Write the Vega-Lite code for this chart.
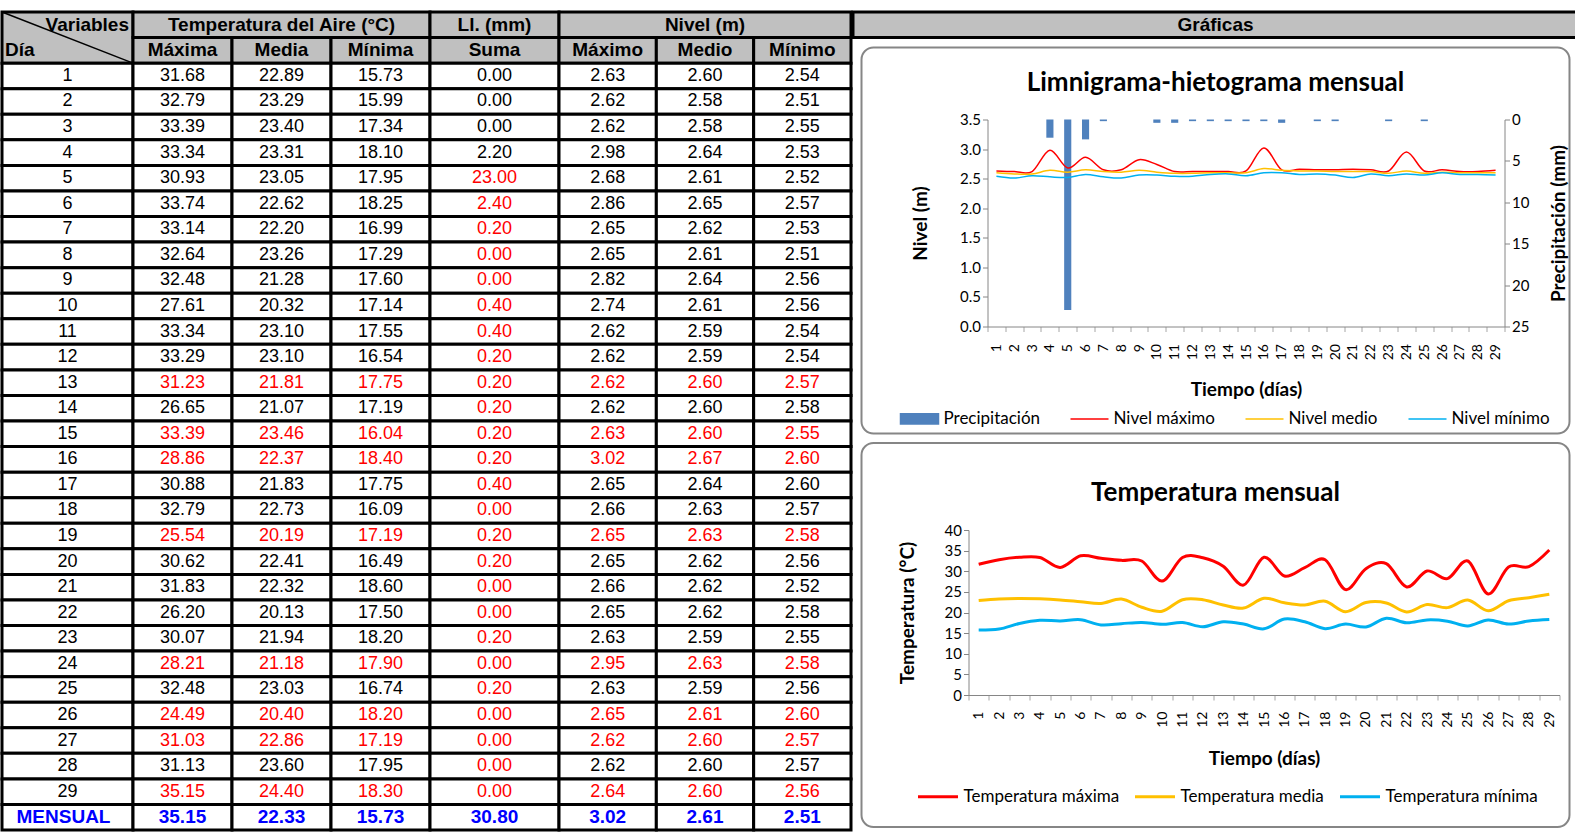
{
  "$schema": "https://vega.github.io/schema/vega-lite/v6.json",
  "padding": {"left": 0, "top": 10, "right": 0, "bottom": 0},
  "background": "white",
  "config": {
    "view": {"stroke": null},
    "axis": {"labelFont": "Lato", "labelFontSize": 15, "labelColor": "#000000", "titleFont": "Lato", "titleFontSize": 19, "titleFontWeight": "bold", "titleColor": "#000000", "domainColor": "#868686", "tickColor": "#868686", "tickSize": 5, "grid": false},
    "legend": {"labelFont": "Lato", "labelFontSize": 17, "labelColor": "#000000"},
    "title": {"font": "Lato", "fontSize": 26, "fontWeight": "bold", "color": "#000000"},
    "text": {"font": "Liberation Sans", "fontSize": 18, "baseline": "middle"}
  },
  "datasets": {
    "diario": [
      {"dia": 1, "tmax": 31.68, "tmed": 22.89, "tmin": 15.73, "ll": 0.0, "nmax": 2.63, "nmed": 2.60, "nmin": 2.54, "estimado": false, "estimado_ll": false},
      {"dia": 2, "tmax": 32.79, "tmed": 23.29, "tmin": 15.99, "ll": 0.0, "nmax": 2.62, "nmed": 2.58, "nmin": 2.51, "estimado": false, "estimado_ll": false},
      {"dia": 3, "tmax": 33.39, "tmed": 23.40, "tmin": 17.34, "ll": 0.0, "nmax": 2.62, "nmed": 2.58, "nmin": 2.55, "estimado": false, "estimado_ll": false},
      {"dia": 4, "tmax": 33.34, "tmed": 23.31, "tmin": 18.10, "ll": 2.2, "nmax": 2.98, "nmed": 2.64, "nmin": 2.53, "estimado": false, "estimado_ll": false},
      {"dia": 5, "tmax": 30.93, "tmed": 23.05, "tmin": 17.95, "ll": 23.0, "nmax": 2.68, "nmed": 2.61, "nmin": 2.52, "estimado": false, "estimado_ll": true},
      {"dia": 6, "tmax": 33.74, "tmed": 22.62, "tmin": 18.25, "ll": 2.4, "nmax": 2.86, "nmed": 2.65, "nmin": 2.57, "estimado": false, "estimado_ll": true},
      {"dia": 7, "tmax": 33.14, "tmed": 22.20, "tmin": 16.99, "ll": 0.2, "nmax": 2.65, "nmed": 2.62, "nmin": 2.53, "estimado": false, "estimado_ll": true},
      {"dia": 8, "tmax": 32.64, "tmed": 23.26, "tmin": 17.29, "ll": 0.0, "nmax": 2.65, "nmed": 2.61, "nmin": 2.51, "estimado": false, "estimado_ll": true},
      {"dia": 9, "tmax": 32.48, "tmed": 21.28, "tmin": 17.60, "ll": 0.0, "nmax": 2.82, "nmed": 2.64, "nmin": 2.56, "estimado": false, "estimado_ll": true},
      {"dia": 10, "tmax": 27.61, "tmed": 20.32, "tmin": 17.14, "ll": 0.4, "nmax": 2.74, "nmed": 2.61, "nmin": 2.56, "estimado": false, "estimado_ll": true},
      {"dia": 11, "tmax": 33.34, "tmed": 23.10, "tmin": 17.55, "ll": 0.4, "nmax": 2.62, "nmed": 2.59, "nmin": 2.54, "estimado": false, "estimado_ll": true},
      {"dia": 12, "tmax": 33.29, "tmed": 23.10, "tmin": 16.54, "ll": 0.2, "nmax": 2.62, "nmed": 2.59, "nmin": 2.54, "estimado": false, "estimado_ll": true},
      {"dia": 13, "tmax": 31.23, "tmed": 21.81, "tmin": 17.75, "ll": 0.2, "nmax": 2.62, "nmed": 2.60, "nmin": 2.57, "estimado": true, "estimado_ll": true},
      {"dia": 14, "tmax": 26.65, "tmed": 21.07, "tmin": 17.19, "ll": 0.2, "nmax": 2.62, "nmed": 2.60, "nmin": 2.58, "estimado": false, "estimado_ll": true},
      {"dia": 15, "tmax": 33.39, "tmed": 23.46, "tmin": 16.04, "ll": 0.2, "nmax": 2.63, "nmed": 2.60, "nmin": 2.55, "estimado": true, "estimado_ll": true},
      {"dia": 16, "tmax": 28.86, "tmed": 22.37, "tmin": 18.40, "ll": 0.2, "nmax": 3.02, "nmed": 2.67, "nmin": 2.60, "estimado": true, "estimado_ll": true},
      {"dia": 17, "tmax": 30.88, "tmed": 21.83, "tmin": 17.75, "ll": 0.4, "nmax": 2.65, "nmed": 2.64, "nmin": 2.60, "estimado": false, "estimado_ll": true},
      {"dia": 18, "tmax": 32.79, "tmed": 22.73, "tmin": 16.09, "ll": 0.0, "nmax": 2.66, "nmed": 2.63, "nmin": 2.57, "estimado": false, "estimado_ll": true},
      {"dia": 19, "tmax": 25.54, "tmed": 20.19, "tmin": 17.19, "ll": 0.2, "nmax": 2.65, "nmed": 2.63, "nmin": 2.58, "estimado": true, "estimado_ll": true},
      {"dia": 20, "tmax": 30.62, "tmed": 22.41, "tmin": 16.49, "ll": 0.2, "nmax": 2.65, "nmed": 2.62, "nmin": 2.56, "estimado": false, "estimado_ll": true},
      {"dia": 21, "tmax": 31.83, "tmed": 22.32, "tmin": 18.60, "ll": 0.0, "nmax": 2.66, "nmed": 2.62, "nmin": 2.52, "estimado": false, "estimado_ll": true},
      {"dia": 22, "tmax": 26.20, "tmed": 20.13, "tmin": 17.50, "ll": 0.0, "nmax": 2.65, "nmed": 2.62, "nmin": 2.58, "estimado": false, "estimado_ll": true},
      {"dia": 23, "tmax": 30.07, "tmed": 21.94, "tmin": 18.20, "ll": 0.2, "nmax": 2.63, "nmed": 2.59, "nmin": 2.55, "estimado": false, "estimado_ll": true},
      {"dia": 24, "tmax": 28.21, "tmed": 21.18, "tmin": 17.90, "ll": 0.0, "nmax": 2.95, "nmed": 2.63, "nmin": 2.58, "estimado": true, "estimado_ll": true},
      {"dia": 25, "tmax": 32.48, "tmed": 23.03, "tmin": 16.74, "ll": 0.2, "nmax": 2.63, "nmed": 2.59, "nmin": 2.56, "estimado": false, "estimado_ll": true},
      {"dia": 26, "tmax": 24.49, "tmed": 20.40, "tmin": 18.20, "ll": 0.0, "nmax": 2.65, "nmed": 2.61, "nmin": 2.60, "estimado": true, "estimado_ll": true},
      {"dia": 27, "tmax": 31.03, "tmed": 22.86, "tmin": 17.19, "ll": 0.0, "nmax": 2.62, "nmed": 2.60, "nmin": 2.57, "estimado": true, "estimado_ll": true},
      {"dia": 28, "tmax": 31.13, "tmed": 23.60, "tmin": 17.95, "ll": 0.0, "nmax": 2.62, "nmed": 2.60, "nmin": 2.57, "estimado": false, "estimado_ll": true},
      {"dia": 29, "tmax": 35.15, "tmed": 24.40, "tmin": 18.30, "ll": 0.0, "nmax": 2.64, "nmed": 2.60, "nmin": 2.56, "estimado": true, "estimado_ll": true}
    ],
    "mensual": [
      {"etiqueta": "MENSUAL", "tmax": 35.15, "tmed": 22.33, "tmin": 15.73, "ll": 30.80, "nmax": 3.02, "nmed": 2.61, "nmin": 2.51}
    ]
  },
  "hconcat": [
    {
      "hconcat": [
        {
          "width": 131, "height": 818,
          "layer": [
            {"data": {"values": [{"t": "Variables"}]}, "mark": {"type": "rect", "fill": "#C0C0C0", "stroke": "#000000", "strokeWidth": 3},
             "encoding": {"y": {"datum": "h1", "type": "ordinal", "bandPosition": 0, "scale": {"domain": ["h1","h2",1,2,3,4,5,6,7,8,9,10,11,12,13,14,15,16,17,18,19,20,21,22,23,24,25,26,27,28,29,"MENSUAL"], "paddingInner": 0, "paddingOuter": 0}, "axis": null}, "y2": {"datum": 1, "bandPosition": 0}}},
            {"data": {"values": [{"t": "Variables"}]}, "mark": {"type": "rule", "stroke": "#000000", "strokeWidth": 1.5},
             "encoding": {"x": {"value": 0}, "x2": {"value": "width"}, "y": {"datum": "h1", "type": "ordinal", "bandPosition": 0, "axis": null}, "y2": {"datum": 1, "bandPosition": 0}}},
            {"data": {"values": [{"t": "Variables"}]}, "mark": {"type": "text", "fontWeight": "bold", "fontSize": 19, "align": "right", "dx": -4, "color": "#000000"},
             "encoding": {"x": {"value": "width"}, "y": {"datum": "h1", "type": "ordinal", "axis": null}, "text": {"field": "t"}}},
            {"data": {"values": [{"t": "Día"}]}, "mark": {"type": "text", "fontWeight": "bold", "fontSize": 19, "align": "left", "dx": 3, "color": "#000000"},
             "encoding": {"x": {"value": 0}, "y": {"datum": "h2", "type": "ordinal", "axis": null}, "text": {"field": "t"}}},
            {
              "data": {"name": "diario"},
              "encoding": {"y": {"field": "dia", "type": "ordinal", "axis": null}},
              "layer": [
                {"mark": {"type": "rect", "fill": "#FFFFFF", "stroke": "#000000", "strokeWidth": 3}},
                {"mark": {"type": "text", "color": "#000000"}, "encoding": {"text": {"field": "dia"}}}
              ]
            },
            {
              "data": {"name": "mensual"},
              "encoding": {"y": {"field": "etiqueta", "type": "ordinal", "axis": null}},
              "layer": [
                {"mark": {"type": "rect", "fill": "#FFFFFF", "stroke": "#000000", "strokeWidth": 3}},
                {"mark": {"type": "text", "color": "#0000FF", "fontWeight": "bold", "fontSize": 19, "dx": -4}, "encoding": {"text": {"field": "etiqueta"}}}
              ]
            }
          ]
        },
        {
          "width": 297, "height": 818,
          "layer": [
            {
              "data": {"values": [{"titulo": "Temperatura del Aire (°C)"}]},
              "encoding": {"y": {"datum": "h1", "type": "ordinal", "scale": {"domain": ["h1","h2",1,2,3,4,5,6,7,8,9,10,11,12,13,14,15,16,17,18,19,20,21,22,23,24,25,26,27,28,29,"MENSUAL"], "paddingInner": 0, "paddingOuter": 0}, "axis": null}},
              "layer": [
                {"mark": {"type": "rect", "fill": "#C0C0C0", "stroke": "#000000", "strokeWidth": 3}},
                {"mark": {"type": "text", "fontWeight": "bold", "fontSize": 19, "color": "#000000"}, "encoding": {"text": {"field": "titulo"}}}
              ]
            },
            {
              "data": {"values": [{"var": "tmax", "nombre": "Máxima"}, {"var": "tmed", "nombre": "Media"}, {"var": "tmin", "nombre": "Mínima"}]},
              "encoding": {"x": {"field": "var", "type": "nominal", "scale": {"domain": ["tmax", "tmed", "tmin"], "paddingInner": 0, "paddingOuter": 0}, "axis": null}, "y": {"datum": "h2", "type": "ordinal", "axis": null}},
              "layer": [
                {"mark": {"type": "rect", "fill": "#C0C0C0", "stroke": "#000000", "strokeWidth": 3}},
                {"mark": {"type": "text", "fontWeight": "bold", "fontSize": 19, "color": "#000000"}, "encoding": {"text": {"field": "nombre"}}}
              ]
            },
            {
              "data": {"name": "diario"},
              "transform": [{"fold": ["tmax", "tmed", "tmin"], "as": ["var", "valor"]}],
              "encoding": {"x": {"field": "var", "type": "nominal", "axis": null}, "y": {"field": "dia", "type": "ordinal", "axis": null}},
              "layer": [
                {"mark": {"type": "rect", "fill": "#FFFFFF", "stroke": "#000000", "strokeWidth": 3}},
                {"mark": {"type": "text"}, "encoding": {"text": {"field": "valor", "type": "quantitative", "format": ".2f"}, "color": {"condition": {"test": "datum.estimado", "value": "#FF0000"}, "value": "#000000"}}}
              ]
            },
            {
              "data": {"name": "mensual"},
              "transform": [{"fold": ["tmax", "tmed", "tmin"], "as": ["var", "valor"]}],
              "encoding": {"x": {"field": "var", "type": "nominal", "axis": null}, "y": {"field": "etiqueta", "type": "ordinal", "axis": null}},
              "layer": [
                {"mark": {"type": "rect", "fill": "#FFFFFF", "stroke": "#000000", "strokeWidth": 3}},
                {"mark": {"type": "text", "color": "#0000FF", "fontWeight": "bold", "fontSize": 19}, "encoding": {"text": {"field": "valor", "type": "quantitative", "format": ".2f"}}}
              ]
            }
          ]
        },
        {
          "width": 129, "height": 818,
          "layer": [
            {
              "data": {"values": [{"titulo": "Ll. (mm)"}]},
              "encoding": {"y": {"datum": "h1", "type": "ordinal", "scale": {"domain": ["h1","h2",1,2,3,4,5,6,7,8,9,10,11,12,13,14,15,16,17,18,19,20,21,22,23,24,25,26,27,28,29,"MENSUAL"], "paddingInner": 0, "paddingOuter": 0}, "axis": null}},
              "layer": [
                {"mark": {"type": "rect", "fill": "#C0C0C0", "stroke": "#000000", "strokeWidth": 3}},
                {"mark": {"type": "text", "fontWeight": "bold", "fontSize": 19, "color": "#000000"}, "encoding": {"text": {"field": "titulo"}}}
              ]
            },
            {
              "data": {"values": [{"nombre": "Suma"}]},
              "encoding": {"y": {"datum": "h2", "type": "ordinal", "axis": null}},
              "layer": [
                {"mark": {"type": "rect", "fill": "#C0C0C0", "stroke": "#000000", "strokeWidth": 3}},
                {"mark": {"type": "text", "fontWeight": "bold", "fontSize": 19, "color": "#000000"}, "encoding": {"text": {"field": "nombre"}}}
              ]
            },
            {
              "data": {"name": "diario"},
              "encoding": {"y": {"field": "dia", "type": "ordinal", "axis": null}},
              "layer": [
                {"mark": {"type": "rect", "fill": "#FFFFFF", "stroke": "#000000", "strokeWidth": 3}},
                {"mark": {"type": "text"}, "encoding": {"text": {"field": "ll", "type": "quantitative", "format": ".2f"}, "color": {"condition": {"test": "datum.estimado_ll", "value": "#FF0000"}, "value": "#000000"}}}
              ]
            },
            {
              "data": {"name": "mensual"},
              "encoding": {"y": {"field": "etiqueta", "type": "ordinal", "axis": null}},
              "layer": [
                {"mark": {"type": "rect", "fill": "#FFFFFF", "stroke": "#000000", "strokeWidth": 3}},
                {"mark": {"type": "text", "color": "#0000FF", "fontWeight": "bold", "fontSize": 19}, "encoding": {"text": {"field": "ll", "type": "quantitative", "format": ".2f"}}}
              ]
            }
          ]
        },
        {
          "width": 292, "height": 818,
          "layer": [
            {
              "data": {"values": [{"titulo": "Nivel (m)"}]},
              "encoding": {"y": {"datum": "h1", "type": "ordinal", "scale": {"domain": ["h1","h2",1,2,3,4,5,6,7,8,9,10,11,12,13,14,15,16,17,18,19,20,21,22,23,24,25,26,27,28,29,"MENSUAL"], "paddingInner": 0, "paddingOuter": 0}, "axis": null}},
              "layer": [
                {"mark": {"type": "rect", "fill": "#C0C0C0", "stroke": "#000000", "strokeWidth": 3}},
                {"mark": {"type": "text", "fontWeight": "bold", "fontSize": 19, "color": "#000000"}, "encoding": {"text": {"field": "titulo"}}}
              ]
            },
            {
              "data": {"values": [{"var": "nmax", "nombre": "Máximo"}, {"var": "nmed", "nombre": "Medio"}, {"var": "nmin", "nombre": "Mínimo"}]},
              "encoding": {"x": {"field": "var", "type": "nominal", "scale": {"domain": ["nmax", "nmed", "nmin"], "paddingInner": 0, "paddingOuter": 0}, "axis": null}, "y": {"datum": "h2", "type": "ordinal", "axis": null}},
              "layer": [
                {"mark": {"type": "rect", "fill": "#C0C0C0", "stroke": "#000000", "strokeWidth": 3}},
                {"mark": {"type": "text", "fontWeight": "bold", "fontSize": 19, "color": "#000000"}, "encoding": {"text": {"field": "nombre"}}}
              ]
            },
            {
              "data": {"name": "diario"},
              "transform": [{"fold": ["nmax", "nmed", "nmin"], "as": ["var", "valor"]}],
              "encoding": {"x": {"field": "var", "type": "nominal", "axis": null}, "y": {"field": "dia", "type": "ordinal", "axis": null}},
              "layer": [
                {"mark": {"type": "rect", "fill": "#FFFFFF", "stroke": "#000000", "strokeWidth": 3}},
                {"mark": {"type": "text"}, "encoding": {"text": {"field": "valor", "type": "quantitative", "format": ".2f"}, "color": {"condition": {"test": "datum.estimado", "value": "#FF0000"}, "value": "#000000"}}}
              ]
            },
            {
              "data": {"name": "mensual"},
              "transform": [{"fold": ["nmax", "nmed", "nmin"], "as": ["var", "valor"]}],
              "encoding": {"x": {"field": "var", "type": "nominal", "axis": null}, "y": {"field": "etiqueta", "type": "ordinal", "axis": null}},
              "layer": [
                {"mark": {"type": "rect", "fill": "#FFFFFF", "stroke": "#000000", "strokeWidth": 3}},
                {"mark": {"type": "text", "color": "#0000FF", "fontWeight": "bold", "fontSize": 19}, "encoding": {"text": {"field": "valor", "type": "quantitative", "format": ".2f"}}}
              ]
            }
          ]
        }
      ],
      "spacing": 0, "bounds": "flush"
    },
    {
      "vconcat": [
        {
          "width": 725, "height": 25.5625,
          "data": {"values": [{"t": "Gráficas"}]},
          "layer": [
            {"mark": {"type": "rect", "fill": "#C0C0C0", "stroke": "#000000", "strokeWidth": 3}, "encoding": {}},
            {"mark": {"type": "text", "fontWeight": "bold", "fontSize": 19, "color": "#000000"}, "encoding": {"text": {"field": "t"}}}
          ]
        },
        {
          "width": 708, "height": 386,
          "view": {"stroke": "#868686", "strokeWidth": 2, "cornerRadius": 12, "fill": "#FFFFFF"},
          "title": {"text": "Limnigrama-hietograma mensual", "offset": -61, "baseline": "middle", "anchor": "middle", "frame": "group"},
          "data": {"name": "diario"},
          "transform": [{"fold": ["ll", "nmax", "nmed", "nmin"], "as": ["serie", "valor"]}],
          "encoding": {
            "x": {"field": "dia", "type": "ordinal", "scale": {"range": [126, 643], "paddingInner": 0, "paddingOuter": 0},
              "axis": {"orient": "bottom", "offset": -107, "title": "Tiempo (días)", "titlePadding": 21, "labelAngle": -90, "labelPadding": 12, "labelFontSize": 14, "tickBand": "extent", "tickColor": "#A6A6A6"}}
          },
          "layer": [
            {
              "transform": [{"filter": "datum.serie === 'll'"}],
              "mark": {"type": "bar", "width": {"band": 0.4}},
              "encoding": {
                "y": {"field": "valor", "type": "quantitative", "scale": {"domain": [0, 25], "range": [72, 279]},
                  "axis": {"orient": "right", "offset": -65, "values": [0, 5, 10, 15, 20, 25], "title": "Precipitación (mm)", "titleAngle": 270, "titleBaseline": "top", "titlePadding": 21}},
                "color": {"field": "serie", "type": "nominal",
                  "scale": {"domain": ["ll", "nmax", "nmed", "nmin"], "range": ["#4F81BD", "#FF0000", "#FFC000", "#00B0F0"]},
                  "legend": {"orient": "none", "legendX": 38, "legendY": 351, "direction": "horizontal", "title": null, "symbolSize": 1444, "labelOffset": 4, "columnPadding": 27,
                    "labelExpr": "datum.label === 'll' ? 'Precipitación' : datum.label === 'nmax' ? 'Nivel máximo' : datum.label === 'nmed' ? 'Nivel medio' : 'Nivel mínimo'",
                    "encode": {"symbols": {"update": {
                      "shape": {"signal": "datum.value === 'll' ? 'M-1,-0.27H1V0.27H-1Z' : 'stroke'"},
                      "fill": {"signal": "datum.value === 'll' ? '#4F81BD' : 'transparent'"},
                      "stroke": {"signal": "datum.value === 'll' ? 'transparent' : datum.value === 'nmax' ? '#FF0000' : datum.value === 'nmed' ? '#FFC000' : '#00B0F0'"},
                      "strokeWidth": {"value": 1.5},
                      "opacity": {"value": 1}
                    }}}}
                }
              }
            },
            {
              "transform": [{"filter": "datum.serie !== 'll'"}],
              "mark": {"type": "line", "interpolate": "cardinal", "strokeWidth": 1.5},
              "encoding": {
                "y": {"field": "valor", "type": "quantitative", "scale": {"domain": [0, 3.5], "range": [279, 72]},
                  "axis": {"orient": "left", "offset": -126, "values": [0, 0.5, 1, 1.5, 2, 2.5, 3, 3.5], "format": ".1f", "title": "Nivel (m)", "titlePadding": 29}},
                "color": {"field": "serie", "type": "nominal"}
              }
            }
          ],
          "resolve": {"scale": {"y": "independent"}, "axis": {"y": "independent"}}
        },
        {
          "width": 708, "height": 384,
          "view": {"stroke": "#868686", "strokeWidth": 2, "cornerRadius": 12, "fill": "#FFFFFF"},
          "title": {"text": "Temperatura mensual", "offset": -76, "baseline": "middle", "anchor": "middle", "frame": "group"},
          "data": {"name": "diario"},
          "transform": [{"fold": ["tmax", "tmed", "tmin"], "as": ["serie", "valor"]}],
          "mark": {"type": "line", "interpolate": "cardinal", "strokeWidth": 3},
          "encoding": {
            "x": {"field": "dia", "type": "ordinal", "scale": {"range": [107, 698], "paddingInner": 0, "paddingOuter": 0},
              "axis": {"orient": "bottom", "offset": -132, "title": "Tiempo (días)", "titlePadding": 22, "labelAngle": -90, "labelPadding": 11, "labelFontSize": 14, "tickBand": "extent", "tickColor": "#A6A6A6"}},
            "y": {"field": "valor", "type": "quantitative", "scale": {"domain": [0, 40], "range": [252, 87]},
              "axis": {"orient": "left", "offset": -107, "values": [0, 5, 10, 15, 20, 25, 30, 35, 40], "title": "Temperatura (°C)", "titlePadding": 27}},
            "color": {"field": "serie", "type": "nominal",
              "scale": {"domain": ["tmax", "tmed", "tmin"], "range": ["#FF0000", "#FFC000", "#00B0F0"]},
              "legend": {"orient": "none", "legendX": 55, "legendY": 332, "direction": "horizontal", "title": null, "symbolType": "stroke", "symbolSize": 1600, "symbolStrokeWidth": 3, "labelOffset": 4, "columnPadding": 9,
                "labelExpr": "datum.label === 'tmax' ? 'Temperatura máxima' : datum.label === 'tmed' ? 'Temperatura media' : 'Temperatura mínima'"}}
          }
        }
      ],
      "spacing": 9.5, "bounds": "flush", "center": true,
      "resolve": {"scale": {"color": "independent"}, "legend": {"color": "independent"}}
    }
  ],
  "spacing": -3,
  "resolve": {"scale": {"color": "independent"}, "legend": {"color": "independent"}}
}
